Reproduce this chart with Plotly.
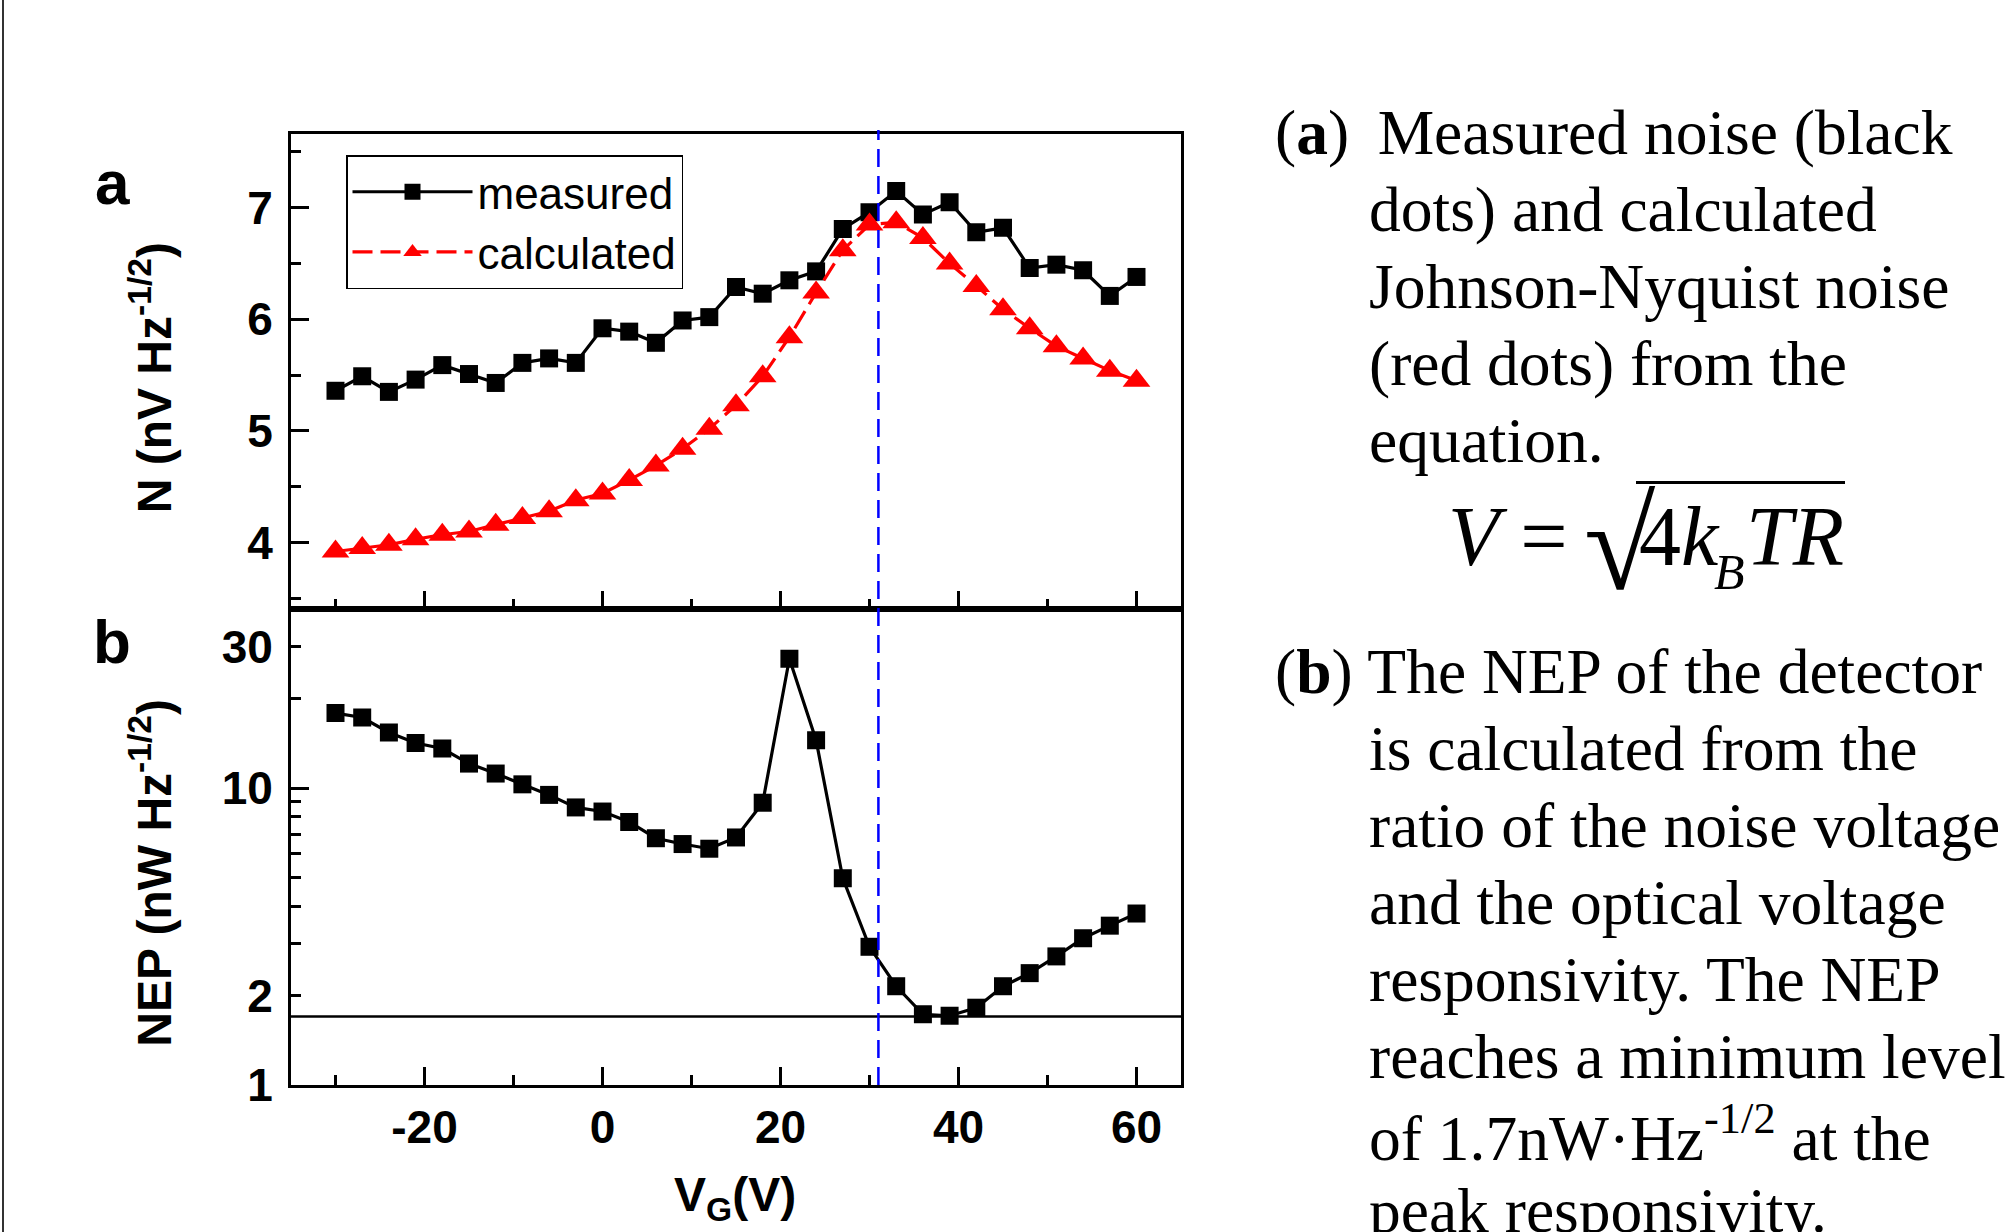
import math
import plotly.graph_objects as go

# ---------------- data ----------------
VG = [-30, -27, -24, -21, -18, -15, -12, -9, -6, -3, 0, 3, 6, 9, 12, 15, 18, 21, 24, 27,
      30, 33, 36, 39, 42, 45, 48, 51, 54, 57, 60]
noise_measured = [5.36, 5.49, 5.35, 5.46, 5.59, 5.51, 5.43, 5.61, 5.65, 5.61, 5.92, 5.89, 5.79,
                  5.99, 6.02, 6.29, 6.23, 6.35, 6.43, 6.81, 6.96, 7.15, 6.94, 7.05, 6.78, 6.82,
                  6.46, 6.49, 6.44, 6.21, 6.38]
noise_calculated = [3.92, 3.95, 3.98, 4.03, 4.07, 4.10, 4.16, 4.22, 4.28, 4.38, 4.44, 4.56, 4.69,
                    4.84, 5.02, 5.23, 5.49, 5.84, 6.24, 6.62, 6.85, 6.87, 6.73, 6.50, 6.30, 6.09,
                    5.92, 5.76, 5.65, 5.54, 5.45]
nep = [17.9, 17.3, 15.4, 14.2, 13.6, 12.1, 11.2, 10.3, 9.49, 8.61, 8.34, 7.69, 6.78, 6.48, 6.25,
       6.82, 8.93, 27.3, 14.5, 4.97, 2.92, 2.15, 1.73, 1.71, 1.82, 2.15, 2.38, 2.71, 3.12, 3.44, 3.78]
NEP_MIN = 1.7
VG_PEAK = 31
X_RANGE = [-35, 65]
N_RANGE = [3.4, 7.66]
NEP_RANGE = [1, 40]

x_major = [-20, 0, 20, 40, 60]
x_major_text = ["-20", "0", "20", "40", "60"]
x_minor = [-30, -10, 10, 30, 50]
n_major = [4, 5, 6, 7]
n_minor = [3.5, 4.5, 5.5, 6.5, 7.5]
nep_ticks = [1, 2, 10, 30]
nep_ticktext = ["1", "2", "10", "30"]
nep_minor = [3, 4, 5, 6, 7, 8, 9, 20]
nep_long = [10]

text_a = ["(<b>a</b>) \u2009Measured noise (black", "dots) and calculated",
          "Johnson-Nyquist noise", "(red dots) from the", "equation."]
text_b = ["(<b>b</b>) The NEP of the detector", "is calculated from the",
          "ratio of the noise voltage", "and the optical voltage",
          "responsivity. The NEP", "reaches a minimum level",
          "of 1.7nW·Hz<sup>-1/2</sup> at the", "peak responsivity."]

# ---------------- geometry ----------------
W = 2011
REF_H = 1232          # layout reference height (positions below are in these pixels)
H = 1259              # figure height; the page is photographed into 1232 rows
def px(x):
    return x / W
def py(y):
    return 1 - y / REF_H

L, R = 291, 1181
T1, B1 = 134, 609
T2, B2 = 609, 1084

SANS = "Liberation Sans, Arial, sans-serif"
SERIF = "Liberation Serif, Times New Roman, serif"

fig = go.Figure()

fig.add_trace(go.Scatter(x=VG, y=noise_measured, name="measured", mode="lines+markers",
                         line=dict(color="black", width=3.2),
                         marker=dict(symbol="square", size=18, color="black"),
                         xaxis="x", yaxis="y"))
fig.add_trace(go.Scatter(x=VG, y=noise_calculated, name="calculated", mode="lines+markers",
                         line=dict(color="#FF0000", width=3.2, dash="20px,8px"),
                         marker=dict(symbol="triangle-up", size=24, color="#FF0000"),
                         xaxis="x", yaxis="y"))
fig.add_trace(go.Scatter(x=VG, y=nep, mode="lines+markers", showlegend=False,
                         line=dict(color="black", width=3.2),
                         marker=dict(symbol="square", size=18, color="black"),
                         xaxis="x2", yaxis="y2"))
fig.add_trace(go.Scatter(x=X_RANGE, y=[NEP_MIN, NEP_MIN], mode="lines", showlegend=False,
                         line=dict(color="black", width=2.5),
                         xaxis="x2", yaxis="y2"))

tickfont = dict(family=SANS, size=46, color="black", weight="bold")
common_x = dict(range=X_RANGE, showgrid=False, zeroline=False, showline=True, linewidth=3,
                linecolor="black", mirror=True, ticks="inside", tickvals=x_major,
                ticktext=x_major_text,
                ticklen=18, tickwidth=3, tickcolor="black",
                minor=dict(tickvals=x_minor, ticks="inside", ticklen=10, tickwidth=3,
                           tickcolor="black", showgrid=False),
                domain=[px(L), px(R)])

fig.update_layout(
    width=W, height=H, autosize=False,
    margin=dict(l=0, r=0, t=0, b=0),
    paper_bgcolor="white", plot_bgcolor="white",
    xaxis=dict(common_x, anchor="y", showticklabels=False),
    xaxis2=dict(common_x, anchor="y2", showticklabels=True, tickfont=tickfont,
                ticklabelstandoff=0),
    yaxis=dict(domain=[py(B1), py(T1)], range=N_RANGE, anchor="x", showgrid=False,
               zeroline=False, showline=True, linewidth=3, linecolor="black", mirror=True,
               ticks="inside", tickvals=n_major, ticklen=18, tickwidth=3, tickcolor="black",
               minor=dict(tickvals=n_minor, ticks="inside", ticklen=10, tickwidth=3,
                          tickcolor="black", showgrid=False),
               tickfont=tickfont, ticklabelstandoff=6),
    yaxis2=dict(domain=[py(B2), py(T2)], type="log",
                range=[math.log10(NEP_RANGE[0]), math.log10(NEP_RANGE[1])], anchor="x2",
                showgrid=False, zeroline=False, showline=True, linewidth=3, linecolor="black",
                mirror=True, ticks="inside", tickvals=nep_ticks, ticktext=nep_ticktext,
                ticklen=10, tickwidth=3, tickcolor="black",
                minor=dict(tickvals=nep_minor, ticks="inside", ticklen=10, tickwidth=3,
                           tickcolor="black", showgrid=False),
                tickfont=tickfont, ticklabelstandoff=6),
    yaxis3=dict(overlaying="y2", type="log",
                range=[math.log10(NEP_RANGE[0]), math.log10(NEP_RANGE[1])], anchor="x2",
                showgrid=False, zeroline=False, showline=False, ticks="inside",
                tickvals=nep_long, ticklen=18, tickwidth=3, tickcolor="black",
                showticklabels=False),
    legend=dict(x=px(346), y=py(155), xanchor="left", yanchor="top",
                bordercolor="black", borderwidth=1.5, bgcolor="white",
                font=dict(family=SANS, size=44, color="black"),
                itemwidth=120, tracegroupgap=0),
    showlegend=True,
)

# empty trace so the long-tick axis is drawn
fig.add_trace(go.Scatter(x=[None], y=[None], xaxis="x2", yaxis="y3", showlegend=False))

shapes = []
shapes.append(dict(type="line", xref="x", yref="paper", x0=VG_PEAK, x1=VG_PEAK,
                   y0=py(B2), y1=py(T1 - 4), line=dict(color="#0000FF", width=2.5,
                                                         dash="18px,9px")))
shapes.append(dict(type="line", xref="paper", yref="paper", x0=px(3), x1=px(3), y0=0, y1=1,
                   line=dict(color="#333333", width=2)))
# vinculum of the square root
shapes.append(dict(type="line", xref="paper", yref="paper", x0=px(1636), x1=px(1845),
                   y0=py(482), y1=py(482), line=dict(color="black", width=3)))
fig.update_layout(shapes=shapes)

ann = []
def A(text, x, y, size, family, xanchor="left", yanchor="middle", angle=0, weight="normal"):
    ann.append(dict(text=text, x=px(x), y=py(y), xref="paper", yref="paper",
                    xanchor=xanchor, yanchor=yanchor, showarrow=False, textangle=angle,
                    font=dict(family=family, size=size, color="black", weight=weight)))

A("a", 112, 182, 62, SANS, xanchor="center", weight="bold")
A("b", 112, 641, 62, SANS, xanchor="center", weight="bold")
A("N (nV Hz<sup>-1/2</sup>)", 151, 378, 48, SANS, xanchor="center", angle=-90, weight="bold")
A("NEP (nW Hz<sup>-1/2</sup>)", 151, 872, 48, SANS, xanchor="center", angle=-90, weight="bold")
A("V<sub>G</sub>(V)", 735, 1197, 48, SANS, xanchor="center", weight="bold")

ya = [132, 209, 286, 363, 440]
for i, t in enumerate(text_a):
    A(t, 1273 if i == 0 else 1367, ya[i], 63.5, SERIF)
yb = [671, 748, 825, 902, 979, 1056, 1133, 1210]
for i, t in enumerate(text_b):
    A(t, 1273 if i == 0 else 1367, yb[i], 63.5, SERIF)

# equation V = sqrt(4 k_B T R)
A("<i>V</i> =", 1446, 536, 84, SERIF)
A("√", 1582, 545, 130, SERIF)
A("4<i>k</i>", 1637, 536, 84, SERIF)
A("<i>B</i>", 1712, 572, 50, SERIF)
A("<i>TR</i>", 1744, 536, 84, SERIF)

fig.update_layout(annotations=ann)
fig.write_html("out.html", config={"displayModeBar": False},
               post_script="document.body.style.margin='0';"
                           "document.body.style.overflow='hidden';")
